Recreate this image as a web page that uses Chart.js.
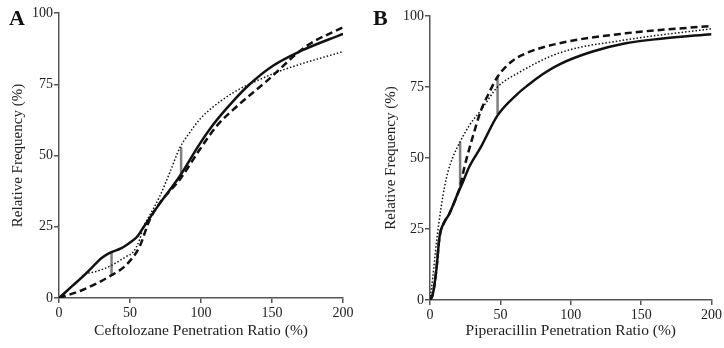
<!DOCTYPE html>
<html>
<head>
<meta charset="utf-8">
<script src="https://cdn.jsdelivr.net/npm/chart.js@4.4.1/dist/chart.umd.min.js"></script>
<style>
  body { margin: 0; background: #fff; }
  #wrap { position: relative; width: 724px; height: 348px; }
  .panel { position: absolute; top: 0; width: 362px; height: 348px; }
  .letter { position: absolute; top: 5px; font: bold 22px "Liberation Serif", serif; color: #111; }
</style>
</head>
<body>
<div id="wrap">
  <div class="panel" style="left:0"><canvas id="chartA" width="362" height="348"></canvas></div>
  <div class="panel" style="left:362px"><canvas id="chartB" width="362" height="348"></canvas></div>
  <div class="letter" style="left:9px">A</div>
  <div class="letter" style="left:373px">B</div>
</div>
<script>
// panel A - ceftolozane
const solidAx = [0, 10, 16.9, 24, 30, 35.7, 44, 50, 55, 59.2, 70, 85, 99, 108.5, 122.5, 134.3, 150.7, 169.5, 200];
const solidAy = [0, 4.5, 7.6, 11.1, 14, 15.8, 17.5, 19.5, 21.5, 24.6, 32.5, 42.7, 54, 60.8, 69, 75, 81.5, 86.5, 92.7];
const dashAx = [0, 16.9, 35.7, 47.5, 56.8, 63.9, 72, 85, 99, 110.8, 122.5, 146, 174, 200];
const dashAy = [0, 2.9, 7.6, 11.7, 18.1, 27.5, 34, 41.5, 52, 60.2, 66, 76, 88.3, 95];
const dotAx = [0, 10, 18, 26, 35.7, 47.5, 52, 56.8, 59.2, 63.9, 70.9, 78, 85, 92, 99, 106, 122.5, 141, 157.7, 200];
const dotAy = [0, 4.5, 8.2, 9.3, 11.1, 14.6, 16, 20.5, 24.6, 29, 35.6, 44, 52.6, 58, 62.6, 66, 72, 76.6, 80, 86.5];
const barsA = [[37, 7.8, 16], [86, 43, 53]];

// panel B - piperacillin
const solidBx = [0, 2, 4.5, 6.8, 10.4, 13.4, 19.8, 23.3, 28, 36.3, 48, 62, 70, 80, 92, 115, 139, 164, 200];
const solidBy = [0, 2, 10.6, 22.3, 27.6, 30, 37.6, 41.5, 47, 54, 65, 72.5, 75.8, 79.5, 83, 87.4, 90.4, 92, 93.6];
const dashBx = [0, 2, 4.5, 6.8, 10.4, 13.4, 19.8, 21.4, 24.5, 30.4, 36.3, 41.7, 48, 58, 68.3, 92, 139, 200];
const dashBy = [0, 2, 10.6, 22.3, 27.6, 30, 37.6, 40, 46.9, 57.5, 66.9, 72.7, 78.6, 84, 86.9, 90.4, 93.9, 96.5];
const dotBx = [0, 2, 4.5, 8, 10.4, 12.7, 16, 21.4, 28, 36.3, 48, 62.2, 92, 139, 200];
const dotBy = [0, 8, 20, 33, 40, 45, 50, 55.7, 61.5, 66.9, 75, 79.8, 87, 91.6, 95.5];
const barsB = [[21.4, 40, 55.7], [48, 65.5, 78.6]];

const xTicks = [0, 50, 100, 150, 200];
const yTicks = [0, 25, 50, 75, 100];

function pts(xs, ys) {
  return xs.map((x, i) => ({x: x, y: ys[i]}));
}

function line(data, width, dash) {
  return {
    data: data, showLine: true, pointRadius: 0, borderColor: '#111', borderWidth: width,
    borderDash: dash, cubicInterpolationMode: 'monotone', fill: false
  };
}

function makeChart(id, s, d, o, bars, xLabel, box) {
  let datasets = [
    line(pts(o[0], o[1]), 1.5, [1.5, 2]),
    line(pts(d[0], d[1]), 2.5, [7, 4]),
    line(pts(s[0], s[1]), 2.5, [])
  ];
  bars.forEach(b => {
    datasets.push({
      data: [{x: b[0], y: b[1]}, {x: b[0], y: b[2]}], showLine: true, pointRadius: 0,
      borderColor: '#808080', borderWidth: 2.5
    });
  });
  const serif = '"Liberation Serif", serif';
  new Chart(document.getElementById(id), {
    type: 'scatter',
    data: {datasets: datasets},
    options: {
      responsive: false, animation: false,
      layout: {padding: {top: box.top, right: box.right, left: 0, bottom: 0}},
      plugins: {legend: {display: false}, tooltip: {enabled: false}},
      scales: {
        x: {
          type: 'linear', min: 0, max: 200,
          afterBuildTicks: ax => { ax.ticks = xTicks.map(v => ({value: v})); },
          afterFit: ax => { ax.height = box.bottom; },
          grid: {drawOnChartArea: false, tickLength: 5, color: '#555', lineWidth: 1.5},
          border: {color: '#555', width: 1.5},
          ticks: {color: '#222', font: {family: serif, size: 14}, padding: 2, maxRotation: 0},
          title: {display: true, text: xLabel, color: '#222', font: {family: serif, size: 15.5}, padding: {top: 4, bottom: 8}}
        },
        y: {
          type: 'linear', min: 0, max: 100,
          afterBuildTicks: ax => { ax.ticks = yTicks.map(v => ({value: v})); },
          afterFit: ax => { ax.width = box.left; },
          grid: {drawOnChartArea: false, tickLength: 5, color: '#555', lineWidth: 1.5},
          border: {color: '#555', width: 1.5},
          ticks: {color: '#222', font: {family: serif, size: 14}, padding: 1},
          title: {display: true, text: 'Relative Frequency (%)', color: '#222', font: {family: serif, size: 15}, padding: {top: box.titlePad, bottom: 0}}
        }
      }
    }
  });
}

makeChart('chartA', [solidAx, solidAy], [dashAx, dashAy], [dotAx, dotAy], barsA,
  'Ceftolozane Penetration Ratio (%)', {left: 59, right: 19, top: 13, bottom: 50, titlePad: 9});
makeChart('chartB', [solidBx, solidBy], [dashBx, dashBy], [dotBx, dotBy], barsB,
  'Piperacillin Penetration Ratio (%)', {left: 68, right: 11, top: 16, bottom: 48, titlePad: 20});
</script>
</body>
</html>
